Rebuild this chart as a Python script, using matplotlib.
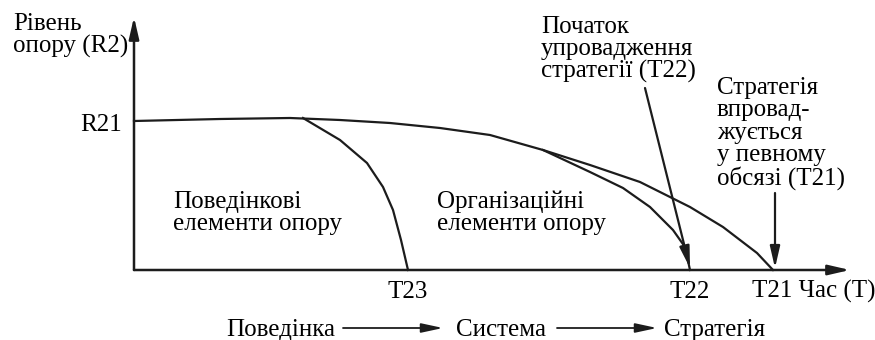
import matplotlib.pyplot as plt

plt.rcParams['font.family'] = ['Liberation Serif', 'DejaVu Serif']

# moments on the time axis and the resistance level
T23 = 274
T22 = 556
T21 = 639
R21 = 149

# overall resistance curve (ends at T21)
outer_x = [0, 86, 156, 206, 256, 306, 356, 409, 456, 506, 556, 589, 623, 639]
outer_y = [149, 151, 152, 150, 147, 142, 135, 120, 105, 88, 63, 43, 17, 0]

# organisational elements (branch ending at T22)
org_x = [409, 456, 489, 516, 539, 551, 556]
org_y = [120, 98, 82, 63, 40, 23, 0]

# behavioural elements (branch ending at T23)
beh_x = [169, 206, 233, 249, 259, 267, 274]
beh_y = [152, 130, 107, 83, 60, 30, 0]

tick_labels = ['T23', 'T22', 'T21 Час (T)']
flow_labels = ['Поведінка', 'Система', 'Стратегія']

ink = '#1c1c1c'
fs = 18
ls = 1.02

fig = plt.figure(figsize=(8.75, 3.4), dpi=100)
ax = fig.add_axes([0, 0, 1, 1])
ax.set_xlim(-134, 741)
ax.set_ylim(-70, 270)
ax.axis('off')

def arrow(x0, y0, x1, y1, lw=1.6, hl=1.3, hw=0.3):
    ax.annotate('', xy=(x1, y1), xytext=(x0, y0),
                arrowprops=dict(arrowstyle='-|>,head_length=%s,head_width=%s' % (hl, hw),
                                mutation_scale=10, lw=lw, color=ink,
                                shrinkA=0, shrinkB=0))

# axes
arrow(0, 0, 0, 253, lw=1.8)
arrow(0, 0, 716, 0, lw=1.8)

# curves
ax.plot(outer_x, outer_y, color=ink, lw=1.6, solid_joinstyle='round')
ax.plot(org_x, org_y, color=ink, lw=1.6, solid_joinstyle='round')
ax.plot(beh_x, beh_y, color=ink, lw=1.6, solid_joinstyle='round')

# pointers to T22 and T21
arrow(511, 182, T22, 2)
arrow(641, 77, 641, 2)

# multi-line labels: baseline refers to the last line
ax.text(-121, 217, 'Рівень\nопору (R2)', fontsize=fs, va='baseline', linespacing=ls)
ax.text(-12, R21 - 10, 'R21', fontsize=fs, va='baseline', ha='right')
ax.text(39, 40, 'Поведінкові\nелементи опору', fontsize=fs, va='baseline', linespacing=ls)
ax.text(303, 40, 'Організаційні\nелементи опору', fontsize=fs, va='baseline', linespacing=ls)
ax.text(407, 192, 'Початок\nупровадження\nстратегії (T22)', fontsize=fs,
        va='baseline', linespacing=ls)
ax.text(583, 85, 'Стратегія\nвпровад-\nжується\nу певному\nобсязі (T21)',
        fontsize=fs, va='baseline', linespacing=ls)

# tick labels
ax.text(T23, -28, tick_labels[0], fontsize=fs, ha='center', va='baseline')
ax.text(T22, -28, tick_labels[1], fontsize=fs, ha='center', va='baseline')
ax.text(T21 - 21, -28, tick_labels[2], fontsize=fs, ha='left', va='baseline')

# bottom flow: behaviour -> system -> strategy
flow_x = [92, 322, 530]
for lab, x in zip(flow_labels, flow_x):
    ax.text(x, -66, lab, fontsize=fs, va='baseline')
arrow(209, -58, 309, -58, lw=1.3, hl=1.3, hw=0.28)
arrow(423, -58, 523, -58, lw=1.3, hl=1.3, hw=0.28)

fig.savefig('out.png', dpi=100)
